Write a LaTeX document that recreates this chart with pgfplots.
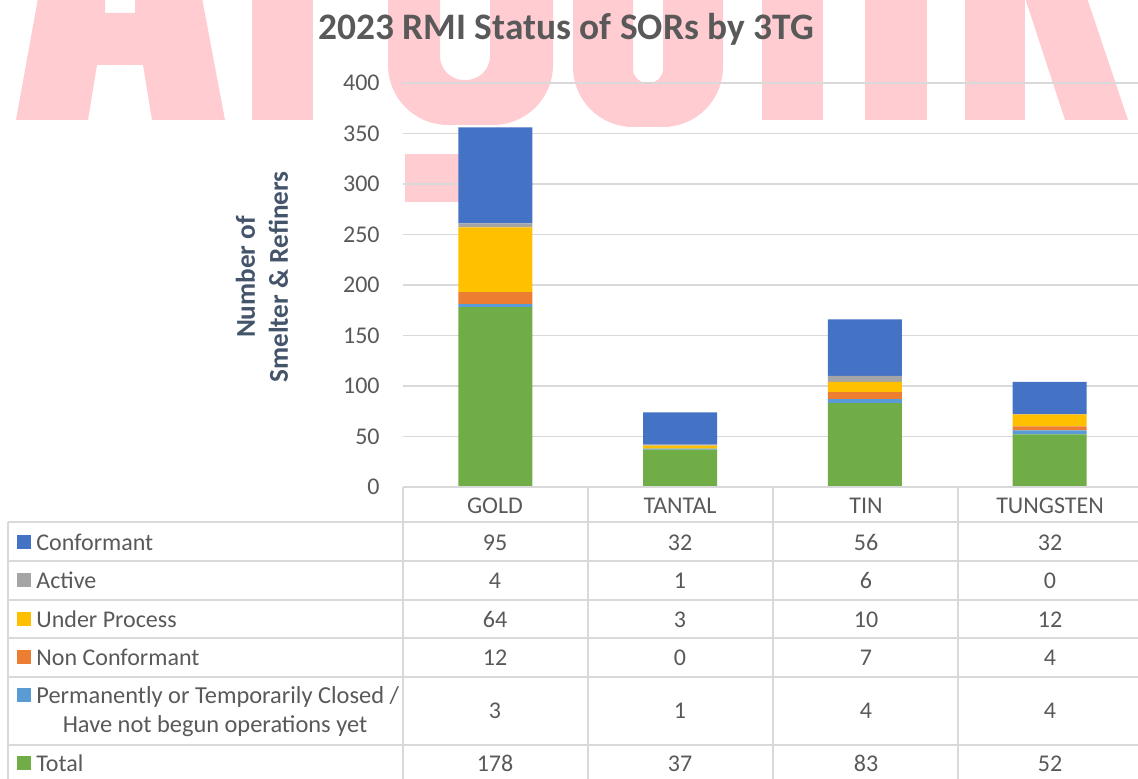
\documentclass[border=0pt]{standalone}
\usepackage{fontspec}
\setmainfont{Carlito}
\usepackage{pgfplots}
\usepackage{pgfplotstable}
\pgfplotsset{compat=1.18}

\definecolor{txtgray}{HTML}{595959}
\definecolor{gridgray}{HTML}{D9D9D9}
\definecolor{axisblue}{HTML}{44546A}
\definecolor{wmark}{RGB}{255,204,210}
\definecolor{cConf}{HTML}{4472C4}
\definecolor{cActive}{HTML}{A5A5A5}
\definecolor{cUnder}{HTML}{FFC000}
\definecolor{cNon}{HTML}{ED7D31}
\definecolor{cClosed}{HTML}{5B9BD5}
\definecolor{cTotal}{HTML}{70AD47}

% 0 = GOLD, 1 = TANTAL, 2 = TIN, 3 = TUNGSTEN
\pgfplotstableread{
x total closed noncon under active conf
0 178   3      12     64    4      95
1 37    1      0      3     1      32
2 83    4      7      10    6      56
3 52    4      4      12    0      32
}\sorstatus

\begin{document}
\begin{tikzpicture}[font=\fontsize{12}{14.5}\selectfont, text=txtgray]
\useasboundingbox (0,0) rectangle (569pt,389pt);
\clip (0,0) rectangle (569pt,389pt);

% watermark (only the lower part of the letters is visible)
\begin{scope}[shift={(0pt,389pt)}, x=0.5pt, y=-0.5pt]
  \fill[wmark, even odd rule] (16,120) -- (38,-2) -- (202,-2) -- (225,120) -- (152,120)
    -- (143,65) -- (97,65) -- (88,120) -- cycle (105,-2) rectangle (135,13);
  \fill[wmark] (252,-2) rectangle (313,120);
  \fill[wmark, even odd rule] [rounded corners=30pt] (388,-300) -- (388,125) -- (553,125)
    -- (553,-300) -- cycle [rounded corners=12pt] (440,-300) -- (440,80) -- (490,80) -- (490,-300) -- cycle;
  \fill[wmark, even odd rule] [rounded corners=30pt] (573,-300) -- (573,127) -- (723,127)
    -- (723,-300) -- cycle [rounded corners=7pt] (633,-300) -- (633,83) -- (663,83) -- (663,-300) -- cycle;
  \fill[wmark] (762,-2) rectangle (823,120);
  \fill[wmark] (865,-2) rectangle (927,120);
  \fill[wmark] (965,-2) rectangle (1025,120);
  \fill[wmark] (1025,-2) -- (1087,-2) -- (1128,120) -- (1065,120) -- cycle;
  \fill[wmark] (405,154) rectangle (500,202);
\end{scope}

\begin{axis}[
    at={(201.5pt,145.5pt)}, anchor=south west,
    width=369.5pt, height=202pt, scale only axis,
    xmin=-0.5, xmax=3.5, ymin=0, ymax=400,
    ybar stacked, bar width=37pt,
    xtick=\empty, ytick={0,50,...,400},
    ymajorgrids, grid style={gridgray, line width=0.9pt},
    axis line style={draw=none}, major tick length=0pt,
    yticklabel style={font=\fontsize{12}{14}\selectfont, text=txtgray, inner sep=0pt, xshift=-11.5pt},
    /pgf/number format/assume math mode=true,
  ]
  \addplot[fill=cTotal, draw=none] table[x=x, y=total] {\sorstatus};
  \addplot[fill=cClosed, draw=none] table[x=x, y=closed] {\sorstatus};
  \addplot[fill=cNon, draw=none] table[x=x, y=noncon] {\sorstatus};
  \addplot[fill=cUnder, draw=none] table[x=x, y=under] {\sorstatus};
  \addplot[fill=cActive, draw=none] table[x=x, y=active] {\sorstatus};
  \addplot[fill=cConf, draw=none] table[x=x, y=conf] {\sorstatus};
\end{axis}

% title, axis label and data table (pixel coordinates, y downwards)
\begin{scope}[shift={(0pt,389pt)}, x=0.5pt, y=-0.5pt]
  \node[font=\fontsize{18.7}{22}\selectfont\bfseries, anchor=base] at (566,40) {2023 RMI Status of SORs by 3TG};
  \node[rotate=90, align=center, font=\fontsize{13.6}{16.5}\selectfont\bfseries, text=axisblue]
    at (262,277) {Number of\\Smelter \& Refiners};

  \draw[gridgray, line width=1pt] (403,487) -- (1145,487);
  \foreach \y in {522,561,600,638,677,745}
    \draw[gridgray, line width=1pt] (8,\y) -- (1145,\y);
  \draw[gridgray, line width=1pt] (8,522) -- (8,790);
  \foreach \x in {403,588,773,958}
    \draw[gridgray, line width=1pt] (\x,487) -- (\x,790);

  \foreach \x/\n in {495/GOLD, 680/TANTAL, 866/TIN, 1050/TUNGSTEN}
    \node[anchor=base] at (\x,513) {\n};

  \foreach \b/\c/\t in {550/cConf/Conformant, 588/cActive/Active, 627/cUnder/Under Process,
                        665/cNon/Non Conformant, 771/cTotal/Total} {
    \fill[\c] (17,\b-15) rectangle (31,\b-1);
    \node[anchor=base west, inner sep=0pt] at (36,\b) {\t};
  }
  \fill[cClosed] (17,688) rectangle (31,702);
  \node[anchor=base west, inner sep=0pt, font=\fontsize{12.2}{14.5}\selectfont] at (36,703) {Permanently or Temporarily Closed /};
  \node[anchor=base, font=\fontsize{12.2}{14.5}\selectfont] at (215,732) {Have not begun operations yet};

  \foreach \b/\p/\q/\r/\s in {550/95/32/56/32, 588/4/1/6/0, 627/64/3/10/12,
                              665/12/0/7/4, 718/3/1/4/4, 771/178/37/83/52} {
    \node[anchor=base] at (495,\b) {\p};
    \node[anchor=base] at (680,\b) {\q};
    \node[anchor=base] at (866,\b) {\r};
    \node[anchor=base] at (1050,\b) {\s};
  }
\end{scope}
\end{tikzpicture}
\end{document}
